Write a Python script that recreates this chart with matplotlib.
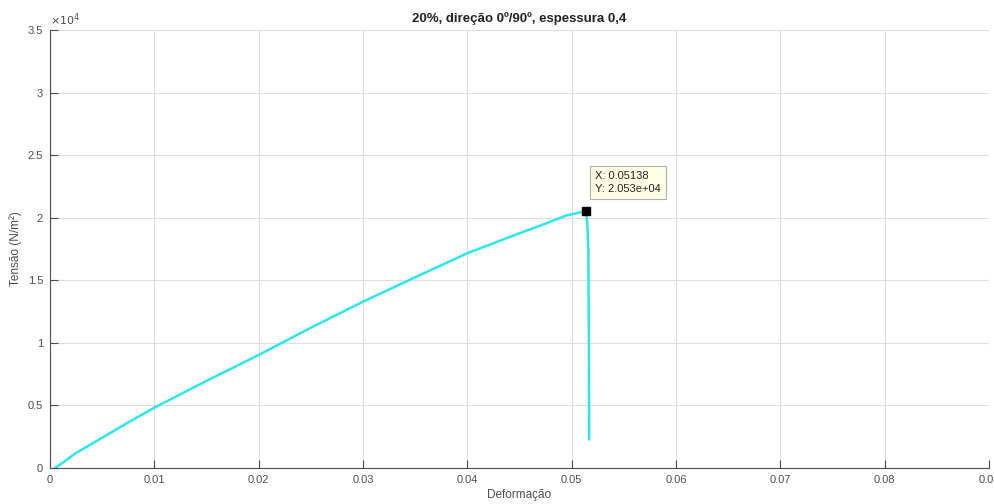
import numpy as np
import matplotlib.pyplot as plt

plt.rcParams['font.family'] = ['Liberation Sans', 'DejaVu Sans']

# curve (strain, stress in N/m^2)
deformacao = [0.0005, 0.0025, 0.005, 0.0075, 0.01, 0.015, 0.02, 0.025, 0.03, 0.035,
              0.04, 0.045, 0.0475, 0.0495, 0.05138, 0.0515, 0.0516, 0.05165, 0.05168]
tensao = [0, 1200, 2420, 3640, 4820, 6960, 9030, 11210, 13290, 15240,
          17160, 18760, 19530, 20180, 20530, 19500, 17500, 10000, 2300]

pico_x = 0.05138
pico_y = 20530

xticks = [0, 0.01, 0.02, 0.03, 0.04, 0.05, 0.06, 0.07, 0.08, 0.09]
xtick_labels = ["0", "0.01", "0.02", "0.03", "0.04", "0.05", "0.06", "0.07", "0.08", "0.09"]
yticks = [0, 5000, 10000, 15000, 20000, 25000, 30000, 35000]
ytick_labels = ["0", "0.5", "1", "1.5", "2", "2.5", "3", "3.5"]

cinza = "#4d4d4d"

fig = plt.figure(figsize=(9.95, 5.04), dpi=100)
ax = fig.add_axes([50/995, 1 - 468/504, 939/995, 438/504])

ax.plot(deformacao, tensao, color="#2ee6ea", linewidth=1.8)
ax.plot([pico_x], [pico_y], marker="s", color="black", markersize=6, zorder=5)

ax.text(pico_x + 0.0009, pico_y + 1350, "X: 0.05138\nY: 2.053e+04", fontsize=8,
        color="#222222", va="bottom", ha="left", linespacing=1.35,
        bbox=dict(boxstyle="square,pad=0.45", facecolor="#ffffe6", edgecolor="#b0b0b0", linewidth=0.8))

ax.set_xlim(0, 0.09)
ax.set_ylim(0, 35000)
ax.set_xticks(xticks)
ax.set_xticklabels(xtick_labels)
ax.set_yticks(yticks)
ax.set_yticklabels(ytick_labels)

ax.grid(True, color="#dedede", linewidth=0.8)
ax.set_axisbelow(True)
ax.spines["top"].set_visible(False)
ax.spines["right"].set_visible(False)
ax.spines["left"].set_color(cinza)
ax.spines["bottom"].set_color(cinza)
ax.tick_params(direction="in", length=6, width=0.8, colors=cinza, labelsize=8, pad=5)

ax.text(0, 1.005, r"$\times10^4$", transform=ax.transAxes, fontsize=8, color=cinza,
        ha="left", va="bottom")

ax.set_title("20%, direção 0º/90º, espessura 0,4", fontsize=9.5, fontweight="bold",
             color="#222222", pad=6)
ax.set_xlabel("Deformação", fontsize=8.5, color=cinza, labelpad=3)
ax.set_ylabel("Tensão (N/m²)", fontsize=8.5, color=cinza, labelpad=4)

fig.savefig("out.png", dpi=100)
